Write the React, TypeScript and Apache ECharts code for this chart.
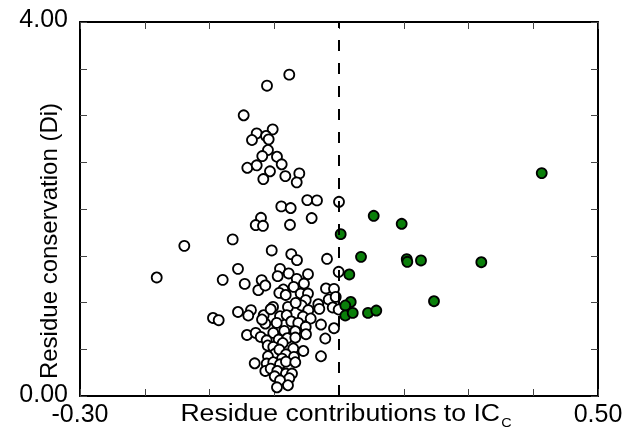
import React, { useEffect, useRef } from "react";
import * as echarts from "echarts";

// Residues below / around the threshold (open circles): [contribution to IC_C, conservation Di]
const whitePoints: [number, number][] = [
  [0.0232, 3.437], [-0.0112, 3.319], [-0.0472, 3.002], [-0.0024, 2.852], [-0.0271, 2.809],
  [-0.0127, 2.781], [-0.0344, 2.738], [-0.0086, 2.745], [-0.0097, 2.631], [-0.0185, 2.566],
  [0.0042, 2.559], [0.0115, 2.478], [-0.0416, 2.441], [-0.0271, 2.467], [-0.0066, 2.403],
  [-0.0169, 2.32], [0.0171, 2.352], [0.0387, 2.381], [0.0347, 2.285], [0.051, 2.095],
  [0.066, 2.092], [0.0109, 2.028], [0.0254, 2.01], [0.1, 2.077], [-0.0205, 1.906],
  [0.0578, 1.903], [-0.0286, 1.828], [-0.0174, 1.82], [0.0243, 1.831], [-0.0642, 1.675],
  [-0.1389, 1.606], [-0.0039, 1.557], [0.0263, 1.517], [0.0351, 1.453], [0.0815, 1.467],
  [-0.056, 1.36], [-0.1815, 1.268], [-0.0796, 1.242], [-0.0456, 1.199], [-0.0194, 1.239],
  [-0.0246, 1.132], [-0.0138, 1.182], [0.0089, 1.36], [0.0053, 1.282], [0.0223, 1.311],
  [0.0347, 1.253], [0.0521, 1.303], [0.0459, 1.203], [0.03, 1.167], [0.014, 1.139],
  [0.0078, 1.103], [0.0177, 1.081], [0.0408, 1.096], [0.0521, 1.096], [0.0799, 1.15],
  [0.0923, 1.146], [0.0841, 1.032], [0.0949, 1.06], [0.0995, 1.328], [0.0486, 1.025],
  [0.0424, 0.968], [0.068, 0.982], [0.0696, 0.932], [0.0903, 0.947], [0.0995, 0.925],
  [-0.0019, 0.953], [0.0212, 0.953], [0.0331, 0.996], [-0.0359, 0.918], [-0.056, 0.899],
  [-0.0401, 0.861], [-0.0946, 0.835], [-0.0858, 0.811], [-0.0163, 0.864], [-0.0055, 0.928],
  [0.0089, 0.853], [0.0192, 0.864], [0.0526, 0.918], [0.0444, 0.85], [0.0563, 0.829],
  [-0.0138, 0.775], [-0.0189, 0.818], [0.0038, 0.782], [0.0263, 0.797], [0.0371, 0.782],
  [0.0486, 0.739], [0.0722, 0.764], [0.0923, 0.725], [-0.0421, 0.653], [-0.0286, 0.675],
  [-0.0209, 0.632], [-0.0015, 0.675], [0.0155, 0.696], [0.0325, 0.693], [0.049, 0.661],
  [-0.0117, 0.596], [0.0069, 0.604], [0.0202, 0.618], [0.0325, 0.625], [0.0788, 0.615],
  [-0.0101, 0.54], [0.0131, 0.567], [-0.0015, 0.525], [0.0294, 0.508], [0.0449, 0.482],
  [0.0016, 0.454], [0.0078, 0.497], [0.0181, 0.446], [-0.0097, 0.425], [0.0305, 0.418],
  [0.0722, 0.425], [0.012, 0.4], [-0.0117, 0.347], [-0.0302, 0.35], [-0.0015, 0.361],
  [0.0089, 0.339], [0.0181, 0.368], [0.0325, 0.361], [-0.0138, 0.268], [-0.0055, 0.293],
  [0.0047, 0.268], [0.0181, 0.24], [0.0274, 0.24], [0.0007, 0.211], [0.0232, 0.19],
  [0.0089, 0.168], [0.0042, 0.093], [0.0212, 0.115],
];

// Residues above the threshold (filled green)
const greenPoints: [number, number][] = [
  [0.4131, 2.384], [0.1536, 1.927], [0.1968, 1.842], [0.1026, 1.731], [0.134, 1.488],
  [0.2046, 1.464], [0.2055, 1.435], [0.2266, 1.45], [0.3198, 1.431], [0.1159, 1.3],
  [0.2467, 1.014], [0.1181, 1.006], [0.1097, 0.968], [0.1097, 0.861], [0.1212, 0.889],
  [0.1448, 0.889], [0.1576, 0.914],
];

const xTickLabels = ["-0.30", "0.50"];
const yTickLabels = ["0.00", "4.00"];
const thresholdX = 0.1;
const xTitle = "Residue contributions to IC";
const xTitleSub = "C";
const yTitle = "Residue conservation (Di)";

const FONT = "'Liberation Sans', Arial, Helvetica, sans-serif";

export default function App() {
  const ref = useRef<HTMLDivElement>(null);
  useEffect(() => {
    if (!ref.current) return;
    const chart = echarts.init(ref.current, undefined, { renderer: "svg" });
    const xFmt = (v: number) => {
      const s = v.toFixed(2);
      return xTickLabels.indexOf(s) >= 0 ? s : "";
    };
    const yFmt = (v: number) => {
      const s = v.toFixed(2);
      if (yTickLabels.indexOf(s) < 0) return "";
      return s === yTickLabels[yTickLabels.length - 1] ? `{hi|${s}}` : `{lo|${s}}`;
    };
    const axisLine = { show: true, onZero: false, lineStyle: { color: "#000", width: 2 } };
    const axisTick = { show: true, inside: true, length: 7, lineStyle: { color: "#444", width: 1 } };
    const xBase = { type: "value", min: -0.3, max: 0.5, interval: 0.1, splitLine: { show: false }, axisLine, axisTick };
    const yBase = { type: "value", min: 0, max: 4, interval: 0.5, splitLine: { show: false }, axisLine, axisTick };
    chart.setOption({
      animation: false,
      grid: { left: 80, right: 46, top: 22, bottom: 43 },
      xAxis: [
        {
          ...xBase,
          position: "bottom",
          axisLabel: {
            formatter: xFmt,
            fontSize: 25,
            lineHeight: 20,
            color: "#000",
            margin: 7,
            fontFamily: FONT,
            showMinLabel: true,
            showMaxLabel: true,
          },
        },
        { ...xBase, position: "top", axisLabel: { show: false } },
      ],
      yAxis: [
        {
          ...yBase,
          position: "left",
          axisLabel: {
            formatter: yFmt,
            color: "#000",
            margin: 12,
            showMinLabel: true,
            showMaxLabel: true,
            rich: {
              lo: { fontSize: 25, lineHeight: 18, fontFamily: FONT, color: "#000", padding: [0, 0, 7, 0] },
              hi: { fontSize: 25, lineHeight: 18, fontFamily: FONT, color: "#000", padding: [0, 0, 8, 0] },
            },
          },
        },
        { ...yBase, position: "right", axisLabel: { show: false } },
      ],
      series: [
        {
          type: "scatter",
          xAxisIndex: 0,
          yAxisIndex: 0,
          data: whitePoints,
          symbol: "circle",
          symbolSize: 10,
          itemStyle: { color: "#fff", borderColor: "#000", borderWidth: 1.8, opacity: 1 },
          markLine: {
            silent: true,
            symbol: "none",
            label: { show: false },
            lineStyle: { color: "#000", width: 2, type: [11, 12] },
            data: [{ xAxis: thresholdX }],
          },
        },
        {
          type: "scatter",
          xAxisIndex: 0,
          yAxisIndex: 0,
          data: greenPoints,
          symbol: "circle",
          symbolSize: 10,
          itemStyle: { color: "#0a7f0a", borderColor: "#000", borderWidth: 1.8, opacity: 1 },
        },
      ],
      graphic: [
        {
          type: "text",
          x: 48,
          y: 241,
          rotation: Math.PI / 2,
          style: { text: yTitle, fontSize: 24, fill: "#000", align: "center", verticalAlign: "middle", fontFamily: FONT },
        },
        {
          type: "text",
          x: 346,
          y: 412,
          scaleX: 1.11,
          style: {
            text: `{a|${xTitle}}{b|${xTitleSub}}`,
            align: "center",
            verticalAlign: "middle",
            fill: "#000",
            rich: {
              a: { fontSize: 24, fontFamily: FONT, fill: "#000", lineHeight: 28 },
              b: { fontSize: 13, fontFamily: FONT, fill: "#000", lineHeight: 14, padding: [22, 0, 0, 1] },
            },
          },
        },
      ],
    });
    return () => chart.dispose();
  }, []);
  return <div ref={ref} style={{ position: "fixed", left: 0, top: 0, width: 644, height: 439 }} />;
}
